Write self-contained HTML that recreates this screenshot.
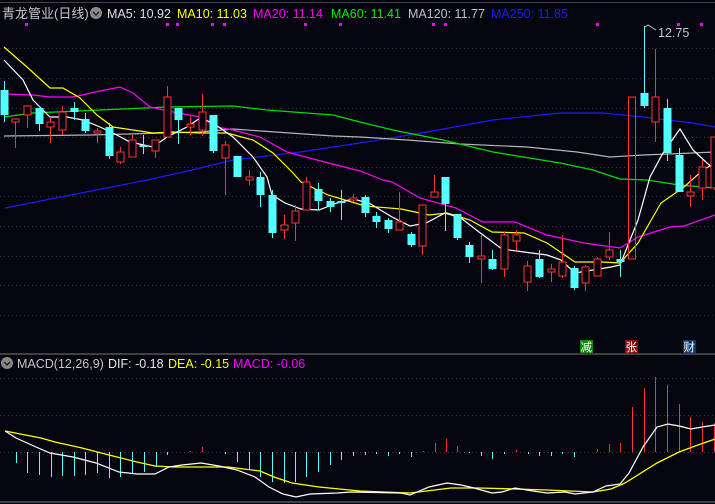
<!DOCTYPE html>
<html><head><meta charset="utf-8"><style>
html,body{margin:0;padding:0;background:#05050f;width:715px;height:504px;overflow:hidden}
svg{display:block}
text{font-family:"Liberation Sans","Noto Sans CJK SC",sans-serif}
</style></head><body>
<svg width="715" height="504" viewBox="0 0 715 504" xmlns="http://www.w3.org/2000/svg">
<rect width="715" height="504" fill="#05050f"/>
<line x1="0" y1="2.5" x2="715" y2="2.5" stroke="#444" stroke-width="1"/>
<g stroke="#3a3a3a" stroke-dasharray="1,3" stroke-width="1">
<line x1="0" y1="48.5" x2="715" y2="48.5"/><line x1="0" y1="78.5" x2="715" y2="78.5"/>
<line x1="0" y1="108.5" x2="715" y2="108.5"/><line x1="0" y1="137.5" x2="715" y2="137.5"/>
<line x1="0" y1="167.5" x2="715" y2="167.5"/><line x1="0" y1="196.5" x2="715" y2="196.5"/>
<line x1="0" y1="226.5" x2="715" y2="226.5"/><line x1="0" y1="256.5" x2="715" y2="256.5"/>
<line x1="0" y1="285.5" x2="715" y2="285.5"/><line x1="0" y1="315.5" x2="715" y2="315.5"/>
<line x1="0" y1="378.5" x2="715" y2="378.5"/><line x1="0" y1="415.5" x2="715" y2="415.5"/>
<line x1="0" y1="452.5" x2="715" y2="452.5"/>
</g>
<line x1="0" y1="354" x2="715" y2="354" stroke="#555" stroke-width="1.5"/>
<line x1="0" y1="502" x2="715" y2="502" stroke="#555" stroke-width="1.5"/>
<!-- header -->
<text x="2" y="18" font-size="13" fill="#c8c8c8">青龙管业(日线)</text>
<circle cx="96" cy="13" r="6" fill="#888"/><path d="M93 12 l3 3 l3 -3" stroke="#222" fill="none" stroke-width="1.5"/>
<text x="107" y="18" font-size="12.5" fill="#e0e0e0">MA5: 10.92</text>
<text x="177" y="18" font-size="12.5" fill="#ffff00">MA10: 11.03</text>
<text x="253" y="18" font-size="12.5" fill="#ff00ff">MA20: 11.14</text>
<text x="331" y="18" font-size="12.5" fill="#00ee00">MA60: 11.41</text>
<text x="408" y="18" font-size="12.5" fill="#c0c0c0">MA120: 11.77</text>
<text x="491" y="18" font-size="12.5" fill="#1a1aff">MA250: 11.85</text>
<g fill="#ff00ff">
<rect x="25" y="23" width="3" height="3"/><rect x="166" y="23" width="3" height="3"/><rect x="176" y="23" width="3" height="3"/>
<rect x="211" y="23" width="3" height="3"/><rect x="223" y="23" width="3" height="3"/><rect x="304" y="23" width="3" height="3"/>
<rect x="339" y="23" width="3" height="3"/><rect x="432" y="23" width="3" height="3"/><rect x="444" y="23" width="3" height="3"/>
<rect x="596" y="23" width="3" height="3"/><rect x="677" y="23" width="3" height="3"/><rect x="700" y="23" width="3" height="3"/>
</g>
<!-- MA lines -->
<polyline fill="none" stroke="#1a1aff" stroke-width="1.2" points="5,208 147,180 192,170 233,160 300,152 360,143 427,132 493,120 560,113 603,113 643,117 693,123 715,127"/>
<polyline fill="none" stroke="#b4b4b4" stroke-width="1.2" points="4,136 90,135 200,132 233,129 333,136 360,137 407,140 460,144 527,147 577,152 610,157 643,155 693,153 715,152"/>
<polyline fill="none" stroke="#00e000" stroke-width="1.2" points="4,117 33,113 100,110 167,107 233,106 267,110 333,115 360,122 393,130 443,140 493,152 560,163 593,170 620,179 647,180 679,185 715,188"/>
<polyline fill="none" stroke="#ff00ff" stroke-width="1.2" points="4,94 33,95 50,97 73,97 100,91 120,87 133,93 150,107 173,112 200,117 217,127 233,130 260,137 287,152 317,160 360,171 383,180 392,182 420,198 456,208 483,222 515,222 547,235 584,243 620,248 638,237 670,227 684,226 715,215"/>
<polyline fill="none" stroke="#ffff00" stroke-width="1.2" points="4,47 27,67 50,88 63,88 80,98 97,115 113,127 133,130 153,133 173,132 200,133 227,133 253,140 273,153 293,173 301,182 328,195 365,206 401,209 429,215 447,213 470,220 492,232 524,233 547,243 575,262 602,262 620,263 638,243 661,203 684,187 703,170 715,163"/>
<polyline fill="none" stroke="#ffffff" stroke-width="1.2" points="4,60 23,80 33,100 50,117 67,117 83,120 100,127 113,133 130,142 153,147 167,137 187,127 200,118 213,123 233,137 253,157 267,177 272,195 285,203 301,209 319,210 337,203 353,199 369,203 392,217 410,226 426,223 445,213 461,218 479,232 502,249 524,252 547,255 561,260 575,273 593,270 611,267 620,265 638,220 650,177 663,153 680,129 693,150 707,163 715,170"/>
<!-- candles -->
<g id="candles" stroke-width="1"></g>
<g stroke-width="1">
<!-- generated statically -->
<line x1="4.5" y1="81" x2="4.5" y2="122" stroke="#54ffff"/><rect x="0.5" y="90" width="8" height="25" fill="#54ffff"/>
<line x1="15.5" y1="119" x2="15.5" y2="148" stroke="#ff3232"/><rect x="12" y="119" width="7" height="3" fill="#05050f" stroke="#ff3232"/>
<line x1="27.5" y1="106" x2="27.5" y2="128" stroke="#ff3232"/><rect x="24" y="106" width="7" height="9" fill="#05050f" stroke="#ff3232"/>
<line x1="39.5" y1="108" x2="39.5" y2="131" stroke="#54ffff"/><rect x="35.5" y="108" width="8" height="16" fill="#54ffff"/>
<line x1="50.5" y1="117" x2="50.5" y2="143" stroke="#ff3232"/><rect x="47" y="122" width="7" height="5" fill="#05050f" stroke="#ff3232"/>
<line x1="62.5" y1="106" x2="62.5" y2="135" stroke="#ff3232"/><rect x="59" y="112" width="7" height="18" fill="#05050f" stroke="#ff3232"/>
<line x1="74.5" y1="102" x2="74.5" y2="120" stroke="#54ffff"/><rect x="70.5" y="108" width="8" height="4" fill="#54ffff"/>
<line x1="85.5" y1="113" x2="85.5" y2="133" stroke="#54ffff"/><rect x="81.5" y="119" width="8" height="12" fill="#54ffff"/>
<line x1="97.5" y1="128" x2="97.5" y2="143" stroke="#ff3232"/><rect x="94" y="131" width="7" height="2" fill="#05050f" stroke="#ff3232"/>
<line x1="109.5" y1="123" x2="109.5" y2="159" stroke="#54ffff"/><rect x="105.5" y="127" width="8" height="29" fill="#54ffff"/>
<line x1="120.5" y1="147" x2="120.5" y2="164" stroke="#ff3232"/><rect x="117" y="152" width="7" height="10" fill="#05050f" stroke="#ff3232"/>
<line x1="132.5" y1="135" x2="132.5" y2="157" stroke="#ff3232"/><rect x="129" y="140" width="7" height="17" fill="#05050f" stroke="#ff3232"/>
<line x1="143.5" y1="135" x2="143.5" y2="154" stroke="#54ffff"/><rect x="139.5" y="145" width="8" height="2" fill="#54ffff"/>
<line x1="155.5" y1="140" x2="155.5" y2="158" stroke="#ff3232"/><rect x="152" y="140" width="7" height="11" fill="#05050f" stroke="#ff3232"/>
<line x1="167.5" y1="86" x2="167.5" y2="137" stroke="#ff3232"/><rect x="164" y="97" width="7" height="40" fill="#05050f" stroke="#ff3232"/>
<line x1="178.5" y1="108" x2="178.5" y2="144" stroke="#54ffff"/><rect x="174.5" y="108" width="8" height="12" fill="#54ffff"/>
<line x1="190.5" y1="116" x2="190.5" y2="135" stroke="#ff3232"/><rect x="187" y="124" width="7" height="3" fill="#05050f" stroke="#ff3232"/>
<line x1="202.5" y1="94" x2="202.5" y2="136" stroke="#ff3232"/><rect x="199" y="112" width="7" height="18" fill="#05050f" stroke="#ff3232"/>
<line x1="213.5" y1="115" x2="213.5" y2="153" stroke="#54ffff"/><rect x="209.5" y="115" width="8" height="36" fill="#54ffff"/>
<line x1="225.5" y1="141" x2="225.5" y2="195" stroke="#ff3232"/><rect x="222" y="145" width="7" height="13" fill="#05050f" stroke="#ff3232"/>
<line x1="237.5" y1="156" x2="237.5" y2="177" stroke="#54ffff"/><rect x="233.5" y="156" width="8" height="21" fill="#54ffff"/>
<line x1="249.5" y1="170" x2="249.5" y2="185" stroke="#ff3232"/><rect x="246" y="177" width="7" height="3" fill="#05050f" stroke="#ff3232"/>
<line x1="260.5" y1="172" x2="260.5" y2="207" stroke="#54ffff"/><rect x="256.5" y="177" width="8" height="18" fill="#54ffff"/>
<line x1="272.5" y1="190" x2="272.5" y2="238" stroke="#54ffff"/><rect x="268.5" y="195" width="8" height="38" fill="#54ffff"/>
<line x1="284.5" y1="215" x2="284.5" y2="239" stroke="#ff3232"/><rect x="281" y="225" width="7" height="5" fill="#05050f" stroke="#ff3232"/>
<line x1="295.5" y1="205" x2="295.5" y2="241" stroke="#ff3232"/><rect x="292" y="211" width="7" height="12" fill="#05050f" stroke="#ff3232"/>
<line x1="306.5" y1="177" x2="306.5" y2="210" stroke="#ff3232"/><rect x="303" y="182" width="7" height="28" fill="#05050f" stroke="#ff3232"/>
<line x1="318.5" y1="183" x2="318.5" y2="210" stroke="#54ffff"/><rect x="314.5" y="189" width="8" height="12" fill="#54ffff"/>
<line x1="330.5" y1="198" x2="330.5" y2="212" stroke="#54ffff"/><rect x="326.5" y="201" width="8" height="6" fill="#54ffff"/>
<line x1="341.5" y1="190" x2="341.5" y2="220" stroke="#54ffff"/><rect x="337.5" y="201" width="8" height="2" fill="#54ffff"/>
<line x1="353.5" y1="194" x2="353.5" y2="202" stroke="#ff3232"/><rect x="350" y="198" width="7" height="2" fill="#05050f" stroke="#ff3232"/>
<line x1="365.5" y1="195" x2="365.5" y2="217" stroke="#54ffff"/><rect x="361.5" y="197" width="8" height="16" fill="#54ffff"/>
<line x1="376.5" y1="212" x2="376.5" y2="228" stroke="#54ffff"/><rect x="372.5" y="216" width="8" height="6" fill="#54ffff"/>
<line x1="388.5" y1="218" x2="388.5" y2="233" stroke="#54ffff"/><rect x="384.5" y="220" width="8" height="9" fill="#54ffff"/>
<line x1="399.5" y1="192" x2="399.5" y2="230" stroke="#ff3232"/><rect x="396" y="222" width="7" height="8" fill="#05050f" stroke="#ff3232"/>
<line x1="411.5" y1="232" x2="411.5" y2="247" stroke="#54ffff"/><rect x="407.5" y="234" width="8" height="11" fill="#54ffff"/>
<line x1="422.5" y1="205" x2="422.5" y2="255" stroke="#ff3232"/><rect x="419" y="205" width="7" height="41" fill="#05050f" stroke="#ff3232"/>
<line x1="434.5" y1="175" x2="434.5" y2="197" stroke="#ff3232"/><rect x="431" y="192" width="7" height="5" fill="#05050f" stroke="#ff3232"/>
<line x1="445.5" y1="177" x2="445.5" y2="231" stroke="#54ffff"/><rect x="441.5" y="177" width="8" height="27" fill="#54ffff"/>
<line x1="457.5" y1="214" x2="457.5" y2="240" stroke="#54ffff"/><rect x="453.5" y="214" width="8" height="24" fill="#54ffff"/>
<line x1="469.5" y1="242" x2="469.5" y2="263" stroke="#54ffff"/><rect x="465.5" y="245" width="8" height="12" fill="#54ffff"/>
<line x1="481.5" y1="235" x2="481.5" y2="283" stroke="#ff3232"/><rect x="478" y="256" width="7" height="3" fill="#05050f" stroke="#ff3232"/>
<line x1="492.5" y1="250" x2="492.5" y2="270" stroke="#54ffff"/><rect x="488.5" y="259" width="8" height="10" fill="#54ffff"/>
<line x1="504.5" y1="232" x2="504.5" y2="277" stroke="#ff3232"/><rect x="501" y="235" width="7" height="34" fill="#05050f" stroke="#ff3232"/>
<line x1="516.5" y1="230" x2="516.5" y2="250" stroke="#ff3232"/><rect x="513" y="235" width="7" height="6" fill="#05050f" stroke="#ff3232"/>
<line x1="527.5" y1="261" x2="527.5" y2="291" stroke="#ff3232"/><rect x="524" y="266" width="7" height="16" fill="#05050f" stroke="#ff3232"/>
<line x1="539.5" y1="250" x2="539.5" y2="278" stroke="#54ffff"/><rect x="535.5" y="259" width="8" height="18" fill="#54ffff"/>
<line x1="551.5" y1="264" x2="551.5" y2="282" stroke="#ff3232"/><rect x="548" y="269" width="7" height="3" fill="#05050f" stroke="#ff3232"/>
<line x1="562.5" y1="235" x2="562.5" y2="278" stroke="#ff3232"/><rect x="559" y="262" width="7" height="14" fill="#05050f" stroke="#ff3232"/>
<line x1="574.5" y1="266" x2="574.5" y2="290" stroke="#54ffff"/><rect x="570.5" y="268" width="8" height="20" fill="#54ffff"/>
<line x1="585.5" y1="265" x2="585.5" y2="291" stroke="#ff3232"/><rect x="582" y="267" width="7" height="16" fill="#05050f" stroke="#ff3232"/>
<line x1="597.5" y1="257" x2="597.5" y2="276" stroke="#ff3232"/><rect x="594" y="259" width="7" height="17" fill="#05050f" stroke="#ff3232"/>
<line x1="609.5" y1="232" x2="609.5" y2="260" stroke="#ff3232"/><rect x="606" y="250" width="7" height="7" fill="#05050f" stroke="#ff3232"/>
<line x1="620.5" y1="250" x2="620.5" y2="277" stroke="#54ffff"/><rect x="616.5" y="259" width="8" height="3" fill="#54ffff"/>
<rect x="628.5" y="97" width="7" height="162" fill="none" stroke="#ff3232"/>
<line x1="644.5" y1="26" x2="644.5" y2="108" stroke="#54ffff"/><rect x="640.5" y="93" width="8" height="13" fill="#54ffff"/>
<line x1="655.5" y1="49" x2="655.5" y2="142" stroke="#ff3232"/><rect x="652" y="97" width="7" height="25" fill="#05050f" stroke="#ff3232"/>
<line x1="667.5" y1="99" x2="667.5" y2="161" stroke="#54ffff"/><rect x="663.5" y="108" width="8" height="45" fill="#54ffff"/>
<line x1="679.5" y1="148" x2="679.5" y2="192" stroke="#54ffff"/><rect x="675.5" y="155" width="8" height="37" fill="#54ffff"/>
<line x1="690.5" y1="175" x2="690.5" y2="207" stroke="#ff3232"/><rect x="687" y="192" width="7" height="4" fill="#05050f" stroke="#ff3232"/>
<line x1="702.5" y1="160" x2="702.5" y2="200" stroke="#ff3232"/><rect x="699" y="167" width="7" height="21" fill="#05050f" stroke="#ff3232"/>
<line x1="714.5" y1="137" x2="714.5" y2="190" stroke="#ff3232"/><rect x="711" y="137" width="7" height="51" fill="#05050f" stroke="#ff3232"/>
</g>
<!-- 12.75 label -->
<polyline points="645,27 648,25 656,30" fill="none" stroke="#c8c8c8" stroke-width="1"/>
<text x="658" y="37" font-size="12.5" fill="#c8c8c8">12.75</text>
<!-- badges -->
<rect x="580" y="340" width="13" height="13" fill="#0a8a0a"/><text x="580.5" y="351" font-size="11.5" fill="#fff">减</text>
<rect x="625" y="340" width="13" height="13" fill="#8a0a0a"/><text x="625.5" y="351" font-size="11.5" fill="#fff">张</text>
<rect x="683" y="340" width="13" height="13" fill="#0a3a6a"/><text x="683.5" y="351" font-size="11.5" fill="#fff">财</text>
<!-- MACD header -->
<circle cx="7" cy="363" r="6" fill="#888"/><path d="M4 362 l3 3 l3 -3" stroke="#222" fill="none" stroke-width="1.5"/>
<text x="17" y="368" font-size="12.5" fill="#c8c8c8">MACD(12,26,9)</text>
<text x="108" y="368" font-size="12.5" fill="#e8e8e8">DIF: -0.18</text>
<text x="168" y="368" font-size="12.5" fill="#ffff00">DEA: -0.15</text>
<text x="233" y="368" font-size="12.5" fill="#ff00ff">MACD: -0.06</text>
<!-- MACD bars -->
<g stroke="#54ffff" stroke-width="1">
<line x1="16.5" y1="452" x2="16.5" y2="463"/><line x1="27.5" y1="452" x2="27.5" y2="473"/><line x1="39.5" y1="452" x2="39.5" y2="475"/>
<line x1="51.5" y1="452" x2="51.5" y2="477"/><line x1="62.5" y1="452" x2="62.5" y2="476"/><line x1="74.5" y1="452" x2="74.5" y2="476"/>
<line x1="85.5" y1="452" x2="85.5" y2="475"/><line x1="97.5" y1="452" x2="97.5" y2="473"/><line x1="109.5" y1="452" x2="109.5" y2="478"/>
<line x1="120.5" y1="452" x2="120.5" y2="477"/><line x1="132.5" y1="452" x2="132.5" y2="473"/><line x1="144.5" y1="452" x2="144.5" y2="472"/>
<line x1="156.5" y1="452" x2="156.5" y2="467"/><line x1="167.5" y1="452" x2="167.5" y2="455"/>
<line x1="225.5" y1="452" x2="225.5" y2="454"/><line x1="237.5" y1="452" x2="237.5" y2="462"/><line x1="249.5" y1="452" x2="249.5" y2="470"/>
<line x1="260.5" y1="452" x2="260.5" y2="477"/><line x1="272.5" y1="452" x2="272.5" y2="482"/><line x1="284.5" y1="452" x2="284.5" y2="483"/>
<line x1="295.5" y1="452" x2="295.5" y2="482"/><line x1="306.5" y1="452" x2="306.5" y2="477"/><line x1="318.5" y1="452" x2="318.5" y2="472"/>
<line x1="330.5" y1="452" x2="330.5" y2="465"/><line x1="341.5" y1="452" x2="341.5" y2="460"/><line x1="353.5" y1="452" x2="353.5" y2="456"/>
<line x1="365.5" y1="452" x2="365.5" y2="455"/><line x1="376.5" y1="452" x2="376.5" y2="454"/><line x1="388.5" y1="452" x2="388.5" y2="456"/>
<line x1="399.5" y1="452" x2="399.5" y2="454"/><line x1="411.5" y1="452" x2="411.5" y2="457"/>
<line x1="469.5" y1="452" x2="469.5" y2="453"/><line x1="481.5" y1="452" x2="481.5" y2="456"/><line x1="492.5" y1="452" x2="492.5" y2="459"/>
<line x1="504.5" y1="452" x2="504.5" y2="454"/><line x1="528.5" y1="452" x2="528.5" y2="454"/><line x1="539.5" y1="452" x2="539.5" y2="456"/>
<line x1="551.5" y1="452" x2="551.5" y2="456"/><line x1="562.5" y1="452" x2="562.5" y2="454"/><line x1="574.5" y1="452" x2="574.5" y2="457"/>
</g>
<g stroke="#ff3232" stroke-width="1">
<line x1="190.5" y1="452" x2="190.5" y2="451"/><line x1="202.5" y1="452" x2="202.5" y2="447"/><line x1="423.5" y1="452" x2="423.5" y2="451"/>
<line x1="435.5" y1="452" x2="435.5" y2="443"/><line x1="446.5" y1="452" x2="446.5" y2="439"/><line x1="457.5" y1="452" x2="457.5" y2="446"/>
<line x1="516.5" y1="452" x2="516.5" y2="450"/><line x1="597.5" y1="452" x2="597.5" y2="449"/><line x1="609.5" y1="452" x2="609.5" y2="444"/>
<line x1="620.5" y1="452" x2="620.5" y2="443"/><line x1="632.5" y1="452" x2="632.5" y2="407"/><line x1="644.5" y1="452" x2="644.5" y2="388"/>
<line x1="655.5" y1="452" x2="655.5" y2="377"/><line x1="667.5" y1="452" x2="667.5" y2="385"/><line x1="679.5" y1="452" x2="679.5" y2="404"/>
<line x1="690.5" y1="452" x2="690.5" y2="417"/><line x1="702.5" y1="452" x2="702.5" y2="422"/><line x1="714.5" y1="452" x2="714.5" y2="423"/>
</g>
<polyline fill="none" stroke="#ffff00" stroke-width="1.3" points="5,431 41,438 55,442 82,448 109,455 137,462 155,466 173,467 228,467 260,471 274,477 292,483 319,487 360,491 410,493 451,488 479,488 515,489 547,490 593,492 611,489 625,483 657,463 679,452 698,445 715,439"/>
<polyline fill="none" stroke="#ffffff" stroke-width="1.2" points="5,431 16,438 36,447 50,453 73,457 96,463 119,472 137,474 155,474 169,467 182,465 201,463 219,466 237,470 255,477 269,487 283,494 296,497 310,494 337,493 351,492 401,493 410,495 429,487 447,483 461,485 474,488 492,493 502,492 515,488 533,491 547,493 565,492 575,494 593,492 606,486 620,484 629,473 643,447 657,427 668,424 679,426 691,429 702,427 715,425"/>
</svg>
</body></html>
